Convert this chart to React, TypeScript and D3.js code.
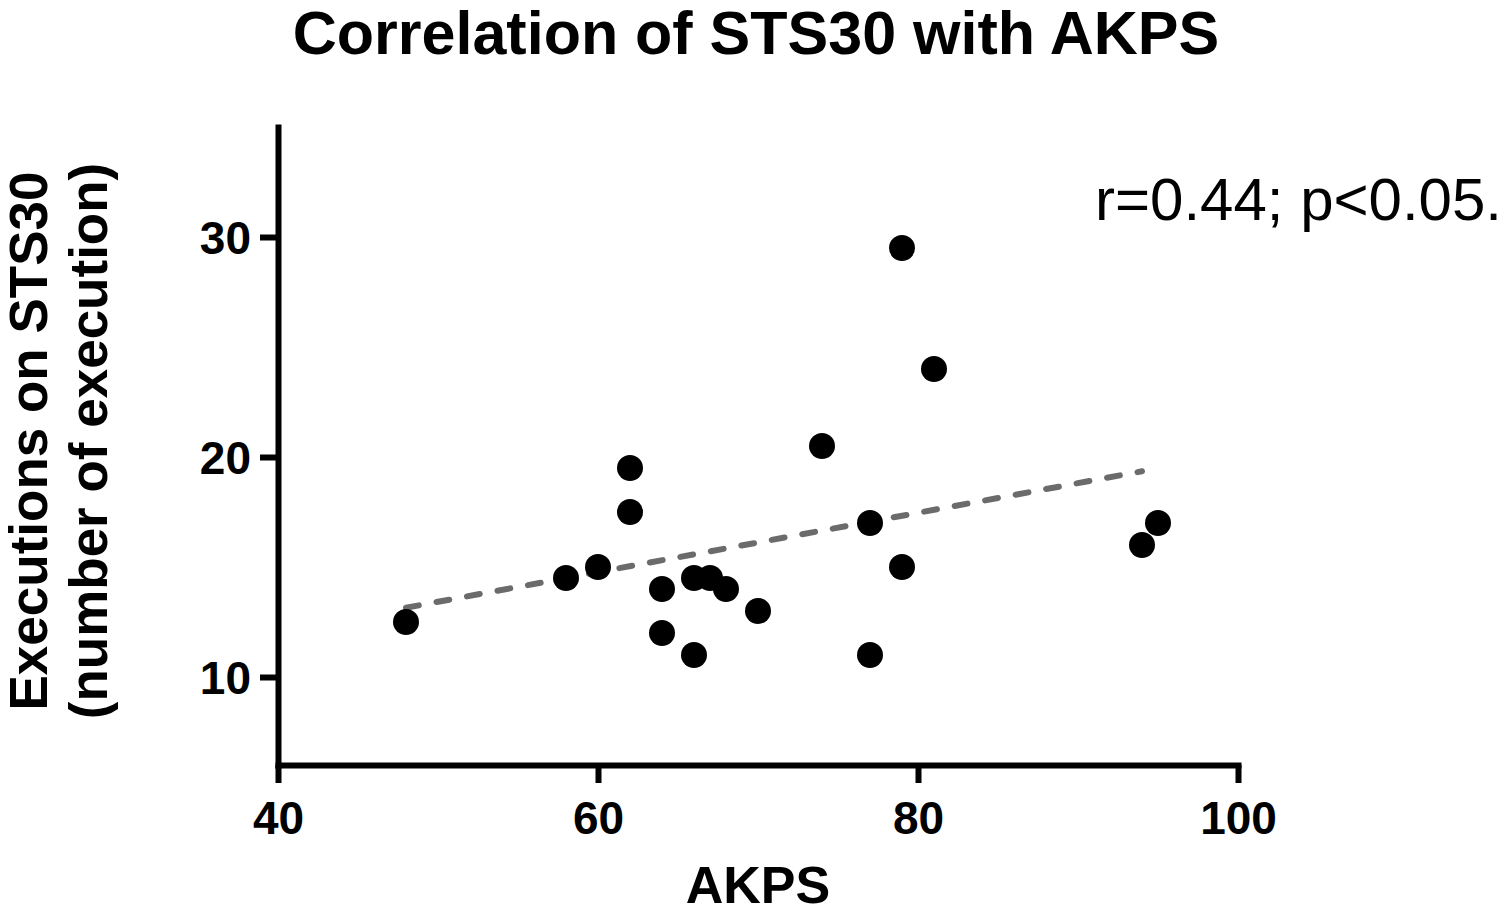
import React, { useEffect, useRef } from 'react';
import * as d3 from 'd3';

// AKPS score (x) vs executions on STS30 (y)
const akps = [48, 58, 60, 62, 62, 64, 64, 66, 66, 67, 68, 70, 74, 77, 77, 79, 79, 81, 94, 95];
const sts30 = [12.5, 14.5, 15, 19.5, 17.5, 14, 12, 14.5, 11, 14.5, 14, 13, 20.5, 17, 11, 29.5, 15, 24, 16, 17];

// fitted regression line, endpoints
const fitX = [48, 94];
const fitY = [13.15, 19.35];

const xTicks = [40, 60, 80, 100];
const yTicks = [10, 20, 30];

const FONT = '"Liberation Sans", Arial, Helvetica, sans-serif';

const App: React.FC = () => {
  const svgRef = useRef<SVGSVGElement>(null);

  useEffect(() => {
    if (!svgRef.current) return;
    const svg = d3.select(svgRef.current);
    svg.selectAll('*').remove();

    const xScale = d3.scaleLinear().domain([40, 100]).range([278, 1238]);
    const yScale = d3.scaleLinear().domain([6, 35]).range([765, 127]);

    // title
    svg.append('text')
      .attr('x', 756)
      .attr('y', 54)
      .attr('text-anchor', 'middle')
      .style('font-family', FONT)
      .style('font-weight', 'bold')
      .style('font-size', '61px')
      .text('Correlation of STS30 with AKPS');

    // x axis
    const xAxis = svg.append('g')
      .attr('transform', `translate(0,${yScale(6)})`)
      .call(d3.axisBottom(xScale).tickValues(xTicks).tickSize(18).tickSizeOuter(0).tickPadding(18).tickFormat(d3.format('d')));

    // y axis
    const yAxis = svg.append('g')
      .attr('transform', `translate(${xScale(40)},0)`)
      .call(d3.axisLeft(yScale).tickValues(yTicks).tickSize(18).tickSizeOuter(0).tickPadding(9).tickFormat(d3.format('d')));

    [xAxis, yAxis].forEach(ax => {
      ax.select('.domain').attr('stroke', '#000').attr('stroke-width', 6).attr('stroke-linecap', 'square');
      ax.selectAll('.tick line').attr('stroke', '#000').attr('stroke-width', 6);
      ax.selectAll('.tick text')
        .attr('fill', '#000')
        .style('font-family', FONT)
        .style('font-weight', 'bold')
        .style('font-size', '46px');
    });
    yAxis.selectAll('.tick text').attr('dy', '0.36em');

    // axis titles
    svg.append('text')
      .attr('x', 758)
      .attr('y', 903)
      .attr('text-anchor', 'middle')
      .style('font-family', FONT)
      .style('font-weight', 'bold')
      .style('font-size', '52px')
      .text('AKPS');

    const yLabel = svg.append('text')
      .attr('transform', 'translate(47,441) rotate(-90)')
      .attr('text-anchor', 'middle')
      .style('font-family', FONT)
      .style('font-weight', 'bold')
      .style('font-size', '53px');
    yLabel.append('tspan').attr('x', 0).attr('y', 0).text('Executions on STS30');
    yLabel.append('tspan').attr('x', 0).attr('y', 60).text('(number of execution)');

    // regression line
    const line = d3.line<number>()
      .x((_, i) => xScale(fitX[i]))
      .y(d => yScale(d));

    svg.append('path')
      .datum(fitY)
      .attr('fill', 'none')
      .attr('stroke', '#6b6b6b')
      .attr('stroke-width', 6)
      .attr('stroke-linecap', 'round')
      .attr('stroke-dasharray', '13 18')
      .attr('d', line);

    // points
    svg.selectAll('.pt')
      .data(akps)
      .enter()
      .append('circle')
      .attr('class', 'pt')
      .attr('cx', d => xScale(d))
      .attr('cy', (_, i) => yScale(sts30[i]))
      .attr('r', 13)
      .attr('fill', '#000');

    // correlation annotation
    svg.append('text')
      .attr('x', 1095)
      .attr('y', 220)
      .style('font-family', FONT)
      .style('font-size', '60px')
      .text('r=0.44; p<0.05.');
  }, []);

  return (
    <div style={{ position: 'absolute', left: 0, top: 0, background: '#fff' }}>
      <svg ref={svgRef} width={1508} height={920}></svg>
    </div>
  );
};

export default App;
